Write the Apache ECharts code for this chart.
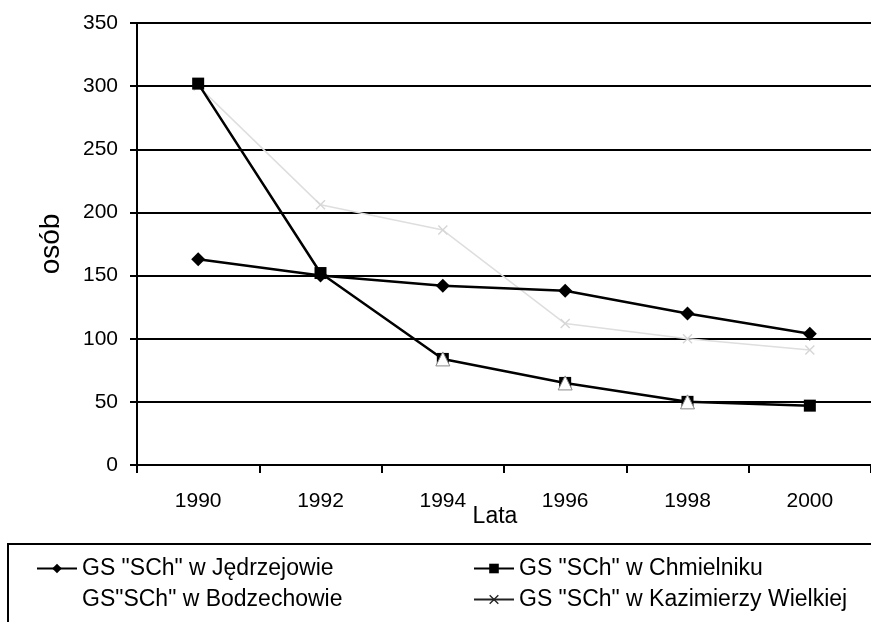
<!DOCTYPE html>
<html>
<head>
<meta charset="utf-8">
<script src="https://cdn.jsdelivr.net/npm/echarts@6/dist/echarts.min.js"></script>
<style>
  html, body { margin: 0; padding: 0; background: #fff; }
  #chart { width: 871px; height: 622px; }
</style>
</head>
<body>
<div id="chart"></div>
<script>
// ---- data ----
const years = ['1990', '1992', '1994', '1996', '1998', '2000'];
const jedrzejow = [163, 150, 142, 138, 120, 104];
const chmielnik = [302, 152, 84, 65, 50, 47];
const bodzechow = [null, null, 84, 65, 50, null];
const kazimierza = [300, 206, 186, 112, 100, 91];
const seriesNames = [
  'GS "SCh" w Jędrzejowie',
  'GS "SCh" w Chmielniku',
  'GS"SCh" w Bodzechowie',
  'GS "SCh" w Kazimierzy Wielkiej'
];
const yTicks = { min: 0, max: 350, interval: 50 };

const FONT = '"Liberation Sans", Arial, sans-serif';
const crossPath = 'path://M0,1 L1,0 L5,4 L9,0 L10,1 L6,5 L10,9 L9,10 L5,6 L1,10 L0,9 L4,5 Z';

const chart = echarts.init(document.getElementById('chart'), null, { renderer: 'canvas' });
chart.setOption({
  animation: false,
  backgroundColor: '#ffffff',
  textStyle: { fontFamily: FONT, color: '#000' },
  grid: { left: 137, top: 23, right: -7, bottom: 157, containLabel: false },
  xAxis: {
    type: 'category',
    data: years,
    boundaryGap: true,
    name: 'Lata',
    nameLocation: 'middle',
    nameGap: 40,
    nameMoveOverlap: false,
    nameTextStyle: { fontSize: 23, color: '#000', fontFamily: FONT, padding: [0, 18, 0, 0] },
    axisLine: { lineStyle: { color: '#000', width: 2 } },
    axisTick: { show: true, length: 8, lineStyle: { color: '#000', width: 2 } },
    axisLabel: { fontSize: 21, color: '#000', margin: 26, fontFamily: FONT },
    splitLine: { show: false }
  },
  yAxis: {
    type: 'value',
    min: yTicks.min, max: yTicks.max, interval: yTicks.interval,
    name: 'osób',
    nameLocation: 'middle',
    nameRotate: 90,
    nameGap: 72,
    nameTextStyle: { fontSize: 28, color: '#000', fontFamily: FONT },
    axisLine: { show: true, lineStyle: { color: '#000', width: 2 } },
    axisTick: { show: true, length: 7, lineStyle: { color: '#000', width: 2 } },
    axisLabel: { fontSize: 21, color: '#000', margin: 19, fontFamily: FONT },
    splitLine: { show: true, lineStyle: { color: '#000', width: 2 } }
  },
  legend: [
    {
      orient: 'vertical', left: 31, top: 552, itemGap: 8,
      itemWidth: 40, itemHeight: 12,
      textStyle: { fontSize: 23, color: '#000', fontFamily: FONT },
      data: [
        { name: seriesNames[0] },
        { name: seriesNames[2], icon: 'none' }
      ]
    },
    {
      orient: 'vertical', left: 468, top: 552, itemGap: 8,
      itemWidth: 40, itemHeight: 12,
      textStyle: { fontSize: 23, color: '#000', fontFamily: FONT },
      data: [
        { name: seriesNames[1] },
        {
          name: seriesNames[3],
          itemStyle: { color: '#222', borderColor: '#222', opacity: 1 },
          lineStyle: { color: '#222', width: 2, opacity: 1 }
        }
      ]
    }
  ],
  graphic: [
    {
      type: 'rect',
      shape: { x: 8, y: 544, width: 900, height: 120 },
      style: { fill: 'none', stroke: '#000', lineWidth: 2 },
      silent: true
    }
  ],
  series: [
    {
      name: seriesNames[0], type: 'line', data: jedrzejow,
      symbol: 'diamond', symbolSize: 14, z: 3,
      lineStyle: { color: '#000', width: 2.5 },
      itemStyle: { color: '#000' }
    },
    {
      name: seriesNames[1], type: 'line', data: chmielnik,
      symbol: 'rect', symbolSize: 12, z: 3,
      lineStyle: { color: '#000', width: 2.5 },
      itemStyle: { color: '#000' }
    },
    {
      name: seriesNames[2], type: 'line', data: bodzechow,
      symbol: 'triangle', symbolSize: 14, z: 4,
      lineStyle: { color: '#ffffff', width: 1, opacity: 0 },
      itemStyle: { color: '#ffffff', borderColor: '#8a8a8a', borderWidth: 1 }
    },
    {
      name: seriesNames[3], type: 'line', data: kazimierza,
      symbol: crossPath, symbolSize: 10, z: 2,
      lineStyle: { color: '#dedede', width: 1.5 },
      itemStyle: { color: '#d6d6d6' }
    }
  ]
});
</script>
</body>
</html>
